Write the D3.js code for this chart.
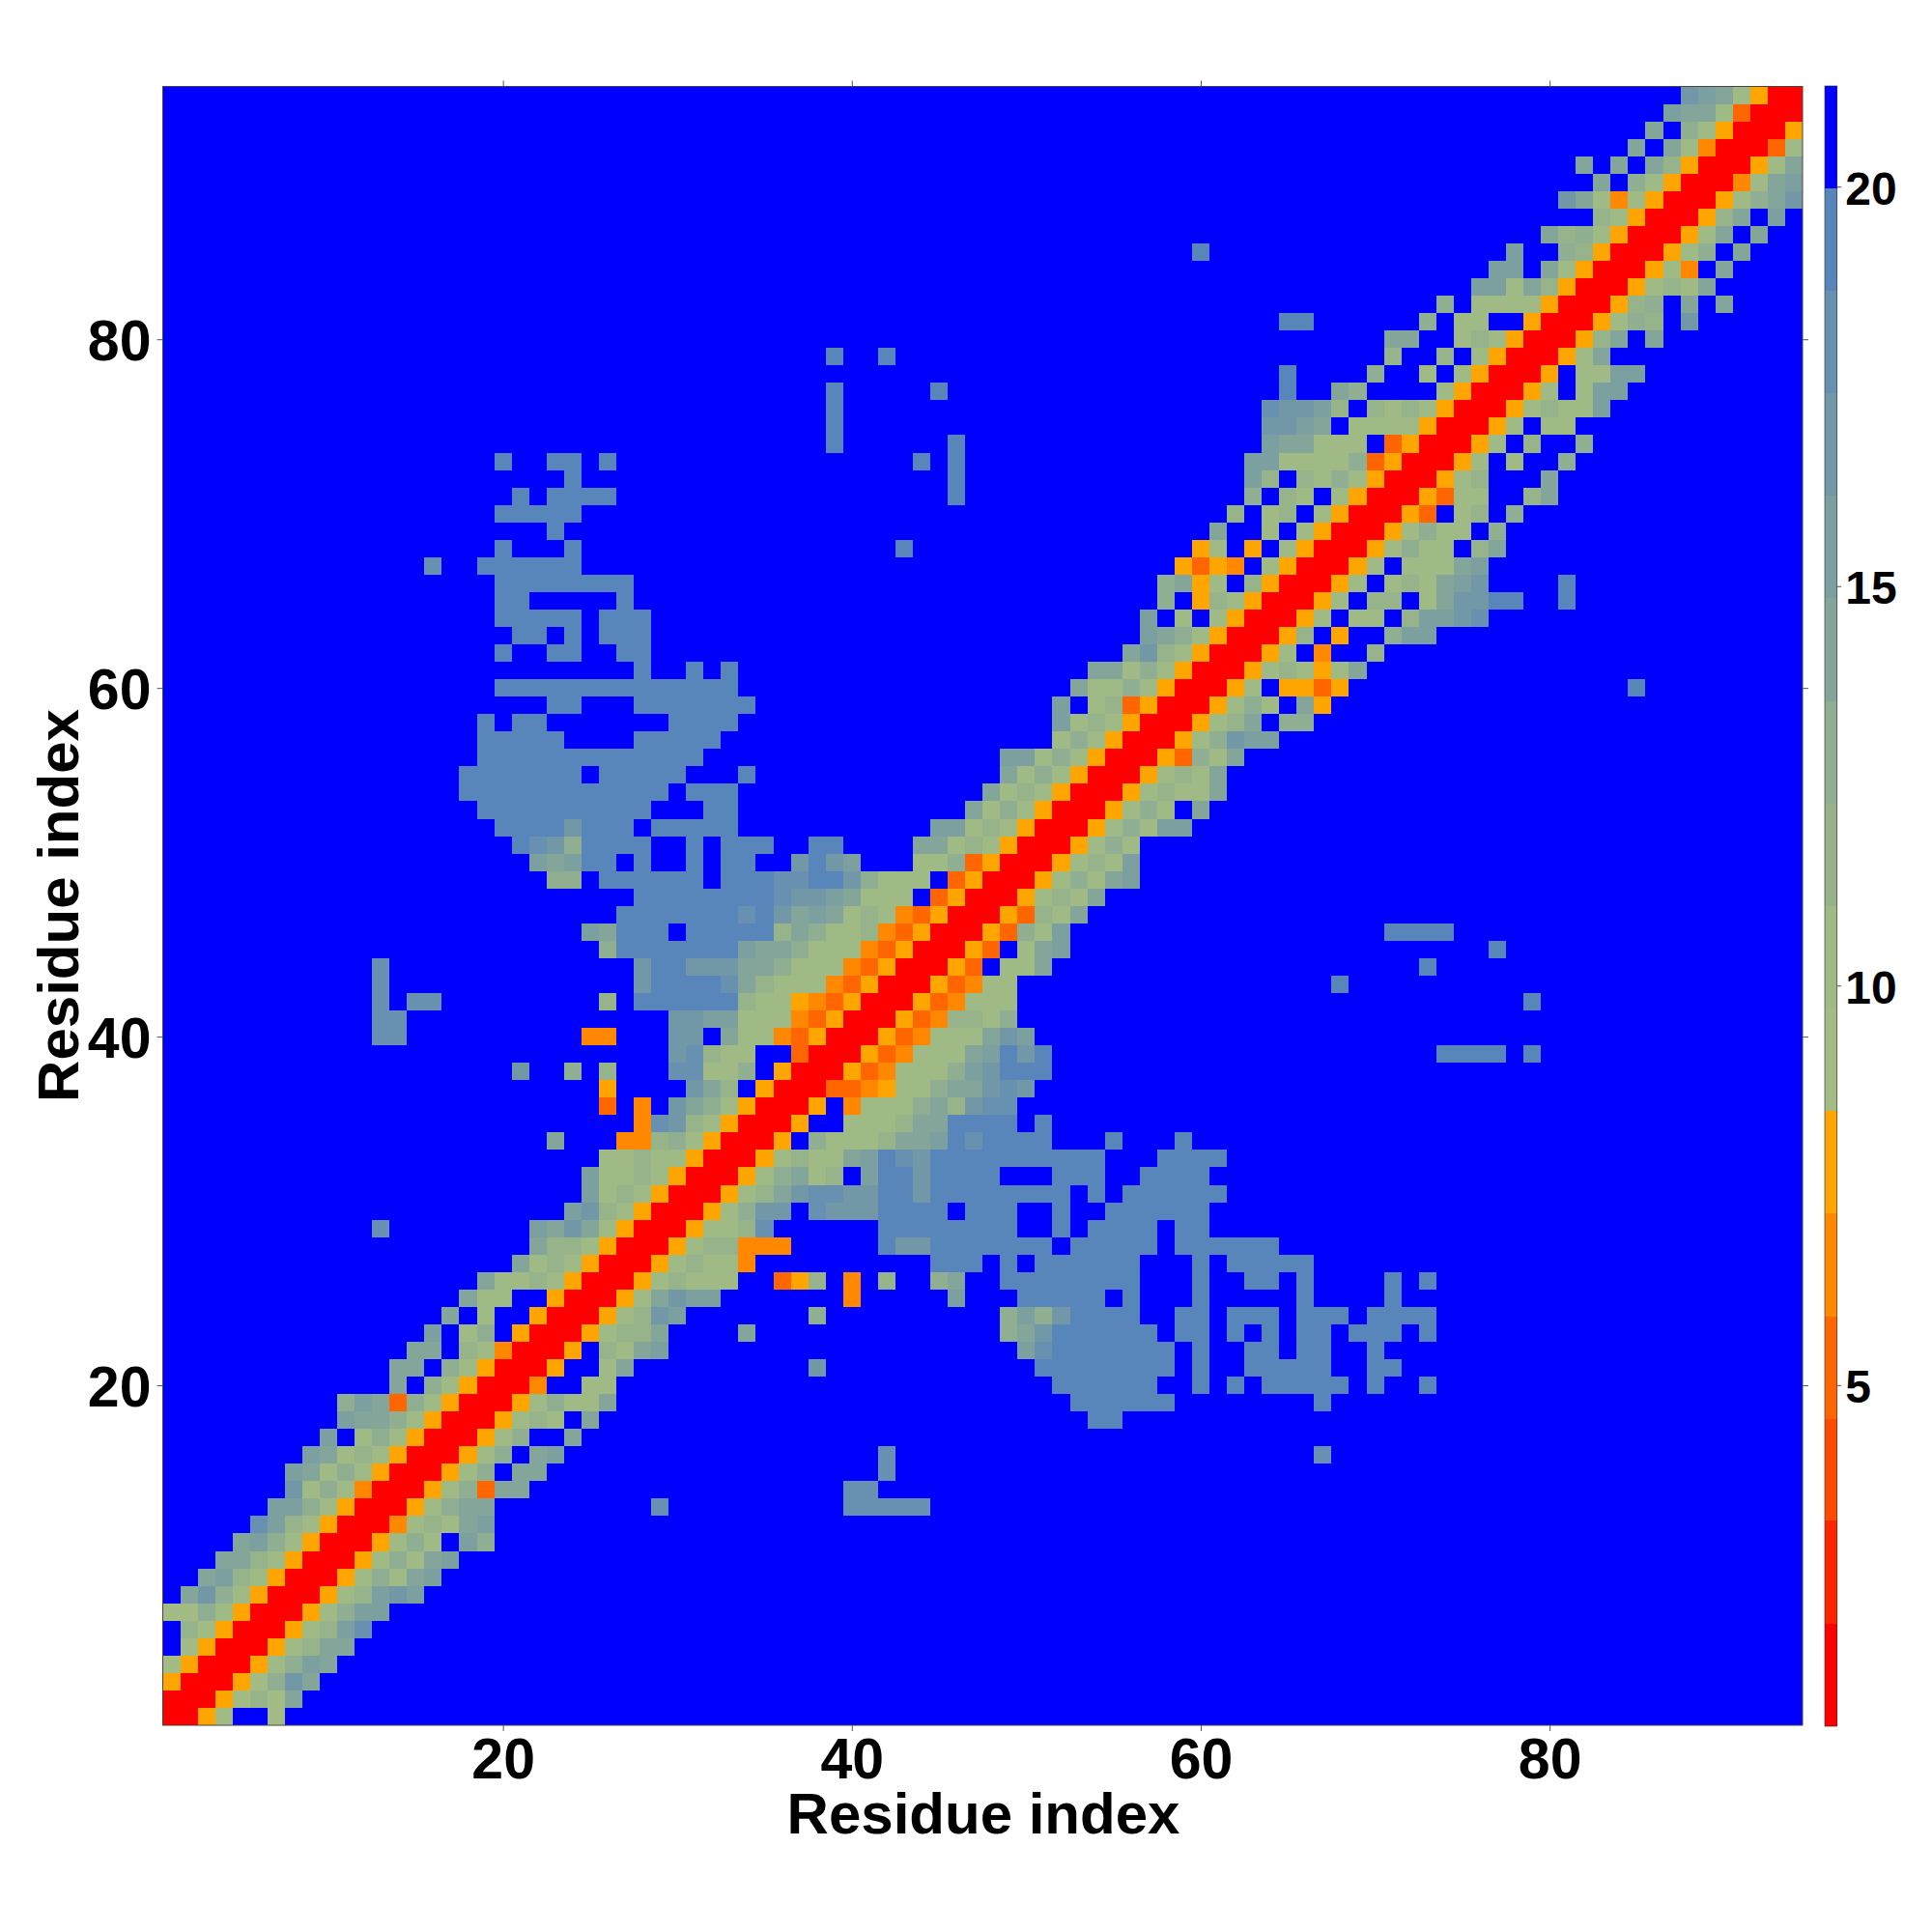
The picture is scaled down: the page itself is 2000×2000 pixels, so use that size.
<!DOCTYPE html>
<html><head><meta charset="utf-8">
<script src="https://cdn.jsdelivr.net/npm/d3@7/dist/d3.min.js"></script>
<style>html,body{margin:0;padding:0;background:#fff}svg{display:block}</style>
</head><body><svg id="chart" width="2000" height="2000"></svg>
<script>
// Residue-residue distance map: symmetric, 94 x 94. Each entry is one row of the upper triangle,
// written as "startColumn:bands", one hex digit per cell (0 = closest band, f = farthest band).
const residueCount = 94;
const upperTriangleRows = [
"1:0056ff6","2:005686a","3:00569ca","4:00579ba","5:00578aa","6:00578bd","7:00579bb","8:00578bcb",
"9:005797ab","10:005797ab","11:005797fb9","12:004787ab","13:00579aa 29:d 40:ddddd","14:005793aa 40:dd",
"15:00579faa 42:d","16:00579fab 42:d 67:d","17:00579ffa","18:005787fa 54:ee","19:0057977a 53:eeeeee 67:e",
"20:004ff77 52:eeeeee 60:e 62:e 64:eeeee 70:e 73:e","21:005ff7a 38:c 51:eeeeeeee 60:e 63:eeeee 70:ee",
"22:005f87ab 50:bdeeeeeee 60:e 63:ee 66:ee 70:e","23:005788a 34:a 49:9aceeeeee 59:ee 62:e 64:e 66:ee 69:eee 73:e",
"24:00578cb 38:9 49:9b9ceeee 59:ee 62:eee 66:eee 70:eeee","25:0057acbb 40:4 46:b 50:eeeee 56:e 60:e 66:e 71:e",
"26:00578777 36:358 40:4 42:8 45:9a 49:eeeeeeee 60:e 63:ee 66:e 71:e 73:e",
"27:00578774 45:eee 49:e 51:eeeeee 60:e 62:eeeee","28:005788444 42:ecceeeeeee 53:eeeee 59:eeeeee",
"29:005778d 42:eeeeeeee 52:e 54:eeee 59:ee","30:00579ccfdccceeeefeee 52:e 55:eeeeee",
"31:00578acddcceeceeeeeeeefefeeeeee","32:00579a78fbeeceeee 52:eee 57:eeee",
"33:0057877abedceeeeeeeeee 58:eeee","34:005f97778aabedeeee 55:e 59:e","35:005ff7778aaeeeefe",
"36:005f47779a8cdd","37:003345779aacdc","38:005347779bceee","39:00534777abece 74:eeee 79:e",
"40:00534777acb","41:005348879","42:00534777 79:e","43:0053477 68:e","44:0053f77a 73:e","45:0053f7ab 77:e",
"46:005397b 71:eeee","47:005387a","48:005787a","49:005797ab","50:005787b","51:005797","52:005797bb",
"53:005797fa","54:0057877a","55:005787a","56:005397a","57:00579cbb","58:00578af99","59:005797fa5",
"60:0057f5535 85:e","61:00578757a","62:0057f4ff8","63:0058f5ff9bb","64:0057f77f8bbcd",
"65:0057f88f7accee 81:e","66:0057f787abc 81:e","67:0057f777ab","68:0057977f8a","69:0057977f9",
"70:0053f78f9","71:005377ff8a","72:00578 80:a","73:0057f7 81:9","74:0057f8 82:9","75:0057f77",
"76:0057877b","77:0057f7bb","78:005f77bb","79:0057a","80:0058afa","81:005798fc","82:00589fafa",
"83:005787a","84:00574fa","85:00579fa","86:0057afa","87:0058afb","88:00579ac","89:0047ab","90:0057a",
"91:0037","92:005","93:00","94:0"
];
const bandBreaks = [0.73,2.01,3.30,4.58,5.86,7.15,8.43,9.71,11.0,12.28,13.56,14.85,16.13,17.41,18.70,19.98,21.26];
const bandColors = ["#FF0000","#FF2500","#FF4B00","#FF6600","#FF8800","#FFA500","#A3BC86","#9FBA85",
                    "#97B38A","#8FAE92","#84A59A","#7C9FA0","#7298A8","#6890B0","#5886BA","#0000FF"];
const axisTicks = [20,40,60,80];
const colorbarTicks = [5,10,15,20];
const axisTitle = "Residue index";

const farBand = 15;
const matrix = d3.range(residueCount).map(() => new Array(residueCount).fill(farBand));
upperTriangleRows.forEach((line, i) => {
  line.split(" ").forEach(seg => {
    const [start, chars] = seg.split(":");
    [...chars].forEach((ch, k) => {
      const col = +start - 1 + k, band = parseInt(ch, 16);
      matrix[i][col] = band; matrix[col][i] = band;
    });
  });
});
const bandValue = b => (bandBreaks[b] + bandBreaks[b + 1]) / 2;
const cells = [];
matrix.forEach((row, r) => row.forEach((b, c) => cells.push({x: c + 1, y: r + 1, v: bandValue(b)})));

const x = d3.scaleLinear().domain([0.5, residueCount + 0.5]).range([168.5, 1866]);
const y = d3.scaleLinear().domain([0.5, residueCount + 0.5]).range([1786, 89.5]);
const color = d3.scaleThreshold().domain(bandBreaks.slice(1, -1)).range(bandColors);
const cbY = d3.scaleLinear().domain([bandBreaks[0], bandBreaks[bandBreaks.length - 1]]).range([1787, 89]);

const svg = d3.select("#chart");
const FONT = "'Liberation Sans', Arial, Helvetica, sans-serif";

svg.append("g").attr("shape-rendering", "crispEdges").selectAll("rect").data(cells).join("rect")
  .attr("x", d => x(d.x - 0.5)).attr("y", d => y(d.y + 0.5))
  .attr("width", d => x(d.x + 0.5) - x(d.x - 0.5))
  .attr("height", d => y(d.y - 0.5) - y(d.y + 0.5))
  .attr("fill", d => color(d.v));

svg.append("rect").attr("x", 168.5).attr("y", 89.5).attr("width", 1866 - 168.5).attr("height", 1786 - 89.5)
  .attr("fill", "none").attr("stroke", "#444").attr("stroke-width", 1);

function styleAxis(g, size, dy) {
  g.select(".domain").remove();
  g.selectAll(".tick line").attr("stroke", "#555").attr("stroke-width", 1);
  const t = g.selectAll(".tick text").attr("font-family", FONT).attr("font-weight", "bold")
    .attr("font-size", size).attr("fill", "#000");
  if (dy) t.attr("dy", dy);
}
const tickLen = 6;
svg.append("g").attr("transform", "translate(0,1786)")
  .call(d3.axisBottom(x).tickValues(axisTicks).tickSize(tickLen).tickPadding(7).tickFormat(d3.format("d")))
  .call(g => styleAxis(g, 59));
svg.append("g").attr("transform", "translate(168.5,0)")
  .call(d3.axisLeft(y).tickValues(axisTicks).tickSize(tickLen).tickPadding(6).tickFormat(d3.format("d")))
  .call(g => styleAxis(g, 59, "0.363em"));
svg.append("g").attr("transform", "translate(0,89.5)")
  .call(d3.axisTop(x).tickValues(axisTicks).tickSize(tickLen).tickFormat(""))
  .call(g => styleAxis(g, 0));
svg.append("g").attr("transform", "translate(1866,0)")
  .call(d3.axisRight(y).tickValues(axisTicks).tickSize(tickLen).tickFormat(""))
  .call(g => styleAxis(g, 0));

svg.append("text").attr("x", 1018).attr("y", 1898).attr("text-anchor", "middle")
  .attr("font-family", FONT).attr("font-weight", "bold").attr("font-size", 60).text(axisTitle);
svg.append("text").attr("transform", "translate(81,937.5) rotate(-90)").attr("text-anchor", "middle")
  .attr("font-family", FONT).attr("font-weight", "bold").attr("font-size", 60).text(axisTitle);

// colour bar
const cb = svg.append("g");
const cbL = 1889, cbR = 1901.7;
cb.append("g").attr("shape-rendering", "crispEdges").selectAll("rect").data(bandColors).join("rect")
  .attr("x", cbL).attr("width", cbR - cbL)
  .attr("y", (d, i) => cbY(bandBreaks[i + 1]))
  .attr("height", (d, i) => cbY(bandBreaks[i]) - cbY(bandBreaks[i + 1]))
  .attr("fill", d => d);
cb.append("rect").attr("x", cbL).attr("y", 89).attr("width", cbR - cbL).attr("height", 1787 - 89)
  .attr("fill", "none").attr("stroke", "#333").attr("stroke-width", 0.8).attr("stroke-opacity", 0.8);
svg.append("g").attr("transform", `translate(${cbR},0)`)
  .call(d3.axisRight(cbY).tickValues(colorbarTicks).tickSize(4.5).tickPadding(4).tickFormat(d3.format("d")))
  .call(g => styleAxis(g, 48, "0.373em"));
</script></body></html>
